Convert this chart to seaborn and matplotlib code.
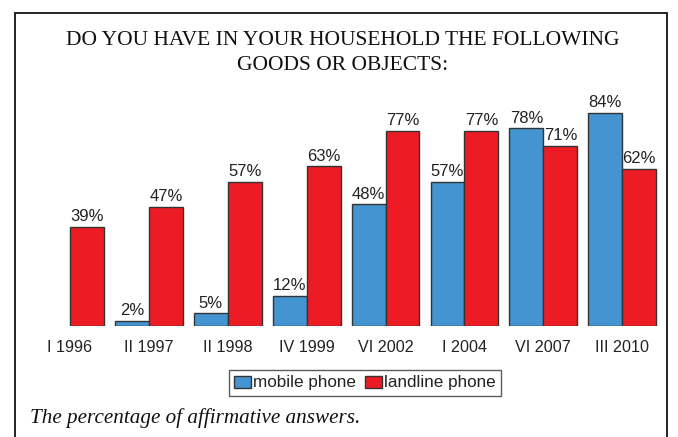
import numpy as np
import pandas as pd
import matplotlib
matplotlib.use("Agg")
import matplotlib.pyplot as plt
from matplotlib.patches import Rectangle
import seaborn as sns

# Survey rounds and share of households owning each phone type (%)
periods = ["I 1996", "II 1997", "II 1998", "IV 1999", "VI 2002", "I 2004", "VI 2007", "III 2010"]
mobile = [np.nan, 2, 5, 12, 48, 57, 78, 84]
landline = [39, 47, 57, 63, 77, 77, 71, 62]
series_names = ["mobile phone", "landline phone"]
colors = ["#4394d0", "#ed1c24"]

title = "DO YOU HAVE IN YOUR HOUSEHOLD THE FOLLOWING\nGOODS OR OBJECTS:"
caption = "The percentage of affirmative answers."

df = pd.DataFrame({
    "period": periods * 2,
    "value": mobile + landline,
    "series": [series_names[0]] * len(periods) + [series_names[1]] * len(periods),
})

sns.set_style("white")
plt.rcParams["font.family"] = ["Liberation Sans", "DejaVu Sans"]

fig = plt.figure(figsize=(6.78, 4.37), dpi=100)
ax = fig.add_axes([0.045, 0.254, 0.931, 0.580])

sns.barplot(data=df, x="period", y="value", hue="series", order=periods,
            hue_order=series_names, palette=colors, width=0.86,
            edgecolor="#333333", linewidth=1.0, saturation=1, ax=ax)

ax.set_xlim(-0.5, len(periods) - 0.5)
ax.set_ylim(0, 100)
for s in ax.spines.values():
    s.set_visible(False)
ax.set_yticks([])
ax.set_xlabel("")
ax.set_ylabel("")
ax.tick_params(axis="x", length=0, labelsize=11.6, colors="#222222", pad=10)

# value labels above each bar
for cont in ax.containers:
    for bar, v in zip(cont, cont.datavalues):
        if np.isnan(v):
            continue
        ax.annotate(f"{v:.0f}%", (bar.get_x() + bar.get_width() / 2, bar.get_height()),
                    xytext=(0, 2), textcoords="offset points", ha="center", va="bottom",
                    fontsize=12, color="#222222")

leg = ax.legend(loc="center", bbox_to_anchor=(365 / 678, (437 - 383) / 437),
                bbox_transform=fig.transFigure, ncol=2, frameon=True, fancybox=False,
                fontsize=12.3, handlelength=1.0, handleheight=0.7, handletextpad=0.12,
                columnspacing=0.55, borderpad=0.3, borderaxespad=0)
leg.get_frame().set_edgecolor("#333333")
leg.get_frame().set_linewidth(1.0)
for t in leg.get_texts():
    t.set_color("#222222")

fig.text(343 / 678, (437 - 31) / 437, title, ha="center", va="top", fontsize=15.5,
         family=["Liberation Serif", "DejaVu Serif"], color="#111111", linespacing=1.4)
fig.text(30 / 678, (437 - 418) / 437, caption, ha="left", va="center", fontsize=15.2,
         family=["Liberation Serif", "DejaVu Serif"], style="italic", color="#111111")

# outer frame
fig.patches.append(Rectangle((15 / 678, -0.05), (667 - 15) / 678, (437 - 13) / 437 + 0.05,
                             transform=fig.transFigure, fill=False, edgecolor="#111111",
                             linewidth=1.3))

fig.savefig("out.png", dpi=100)
